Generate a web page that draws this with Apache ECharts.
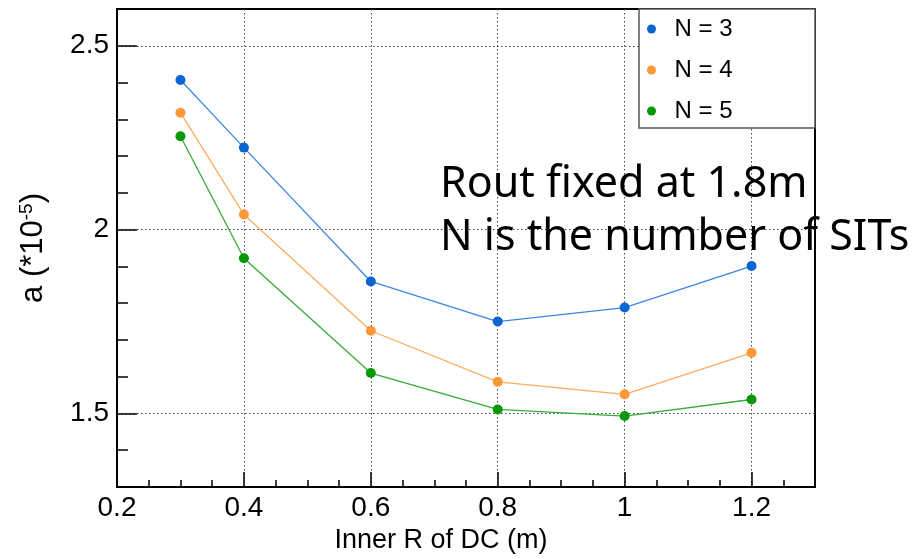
<!DOCTYPE html>
<html>
<head>
<meta charset="utf-8">
<script src="https://cdn.jsdelivr.net/npm/echarts@6/dist/echarts.min.js"></script>
<style>
html,body{margin:0;padding:0;background:#fff;}
#chart{width:917px;height:559px;}
</style>
</head>
<body>
<div id="chart"></div>
<script>
var innerR = [0.3, 0.4, 0.6, 0.8, 1.0, 1.2];
var seriesNames = ['N = 3', 'N = 4', 'N = 5'];
var valuesN3 = [2.407, 2.223, 1.859, 1.750, 1.788, 1.901];
var valuesN4 = [2.318, 2.041, 1.725, 1.586, 1.552, 1.665];
var valuesN5 = [2.254, 1.922, 1.610, 1.511, 1.493, 1.538];
var xTicks = [0.2, 0.4, 0.6, 0.8, 1, 1.2];
var yTicks = [1.5, 2, 2.5];
var annotationLines = ['Rout fixed at 1.8m', 'N is the number of SITs'];
var xTitle = 'Inner R of DC (m)';

var markerColors = ['#0a64d2', '#fd973a', '#069806'];
var lineColors = ['#3d86e0', '#fdab5e', '#34ad34'];
var allValues = [valuesN3, valuesN4, valuesN5];

function pairs(vals) {
  return innerR.map(function (x, i) { return [x, vals[i]]; });
}

var chart = echarts.init(document.getElementById('chart'), null, {renderer: 'canvas'});
var font = '"Liberation Sans", Arial, sans-serif';

var series = allValues.map(function (vals, k) {
  return {
    name: seriesNames[k],
    type: 'line',
    data: pairs(vals),
    xAxisIndex: 0,
    yAxisIndex: 0,
    symbol: 'circle',
    symbolSize: 10,
    itemStyle: {color: markerColors[k]},
    lineStyle: {color: lineColors[k], width: 1.3},
    z: 3
  };
});

var gridLine = {show: true, lineStyle: {color: '#444', type: [1.5, 2.5], width: 1}};
function fmt(v) { return String(Math.round(v * 10) / 10); }

chart.setOption({
  animation: false,
  backgroundColor: '#fff',
  grid: {left: 117, right: 102, top: 9, bottom: 72, show: true, borderColor: '#000', borderWidth: 2, backgroundColor: 'transparent'},
  legend: {
    orient: 'vertical',
    left: 642, top: 12,
    itemWidth: 36, itemHeight: 9, itemGap: 17,
    icon: 'circle',
    z: 10,
    textStyle: {fontFamily: font, fontSize: 24, color: '#000'},
    data: seriesNames
  },
  xAxis: [{
    type: 'value', min: 0.2, max: 1.3, interval: 0.05,
    axisLine: {show: true, lineStyle: {color: '#000', width: 2}},
    axisTick: {show: true, inside: true, length: 15, customValues: xTicks, lineStyle: {color: '#000', width: 1.5}},
    minorTick: {show: false},
    axisLabel: {fontFamily: font, fontSize: 28, color: '#000', margin: 7, customValues: xTicks, formatter: fmt},
    splitLine: gridLine,
    name: xTitle, nameLocation: 'middle', nameGap: 40,
    nameTextStyle: {fontFamily: font, fontSize: 27, color: '#000', padding: [0, 50, 0, 0]}
  }, {
    type: 'value', min: 0.2, max: 1.3, interval: 0.05, position: 'bottom', offset: 0,
    axisLine: {show: false},
    axisTick: {show: true, inside: true, length: 7, lineStyle: {color: '#000', width: 1.5}},
    axisLabel: {show: false},
    splitLine: {show: false}
  }],
  yAxis: [{
    type: 'value', min: 1.3, max: 2.6, interval: 0.1,
    axisLine: {show: true, lineStyle: {color: '#000', width: 2}},
    axisTick: {show: true, inside: true, length: 20, customValues: yTicks, lineStyle: {color: '#000', width: 1.5}},
    axisLabel: {fontFamily: font, fontSize: 28, color: '#000', margin: 8, customValues: yTicks, formatter: fmt},
    splitLine: gridLine,
    name: '{a|a (*10}{s|-5}{a|)}', nameLocation: 'middle', nameGap: 68, nameRotate: 90,
    nameTextStyle: {
      rich: {
        a: {fontFamily: font, fontSize: 31, color: '#000'},
        s: {fontFamily: font, fontSize: 19, color: '#000', verticalAlign: 'top', padding: [0, 0, 13, 0]}
      }
    }
  }, {
    type: 'value', min: 1.3, max: 2.6, interval: 0.1, position: 'left', offset: 0,
    axisLine: {show: false},
    axisTick: {show: true, inside: true, length: 11, lineStyle: {color: '#000', width: 1.5}},
    axisLabel: {show: false},
    splitLine: {show: false}
  }],
  graphic: [
    {type: 'rect', z: 5, shape: {x: 639, y: 9, width: 176, height: 119},
      style: {fill: '#fff', stroke: '#555', lineWidth: 1.5}},
    {type: 'text', z: 6, left: 440, top: 158,
      style: {text: annotationLines.join('\n'), fontFamily: '"Noto Sans", sans-serif', fontSize: 43, lineHeight: 53, fill: '#000'}}
  ],
  series: series
});
</script>
</body>
</html>
